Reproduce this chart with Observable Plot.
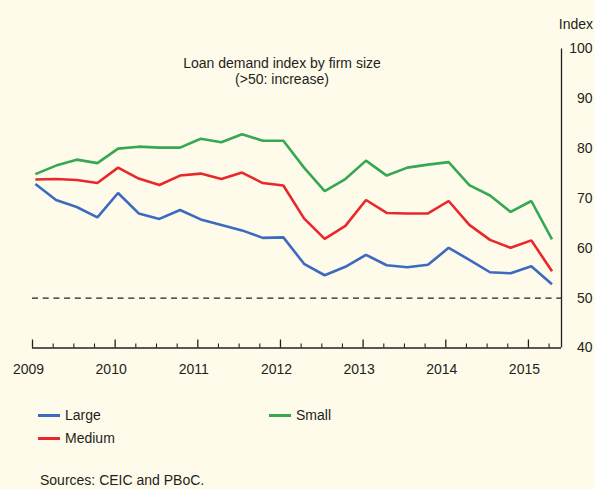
<!DOCTYPE html>
<html><head><meta charset="utf-8">
<script src="https://cdn.jsdelivr.net/npm/d3@7"></script>
<script src="https://cdn.jsdelivr.net/npm/@observablehq/plot@0.6"></script>
<style>
html,body{margin:0;padding:0;background:#FEFBEA;}
#wrap{position:relative;width:595px;height:489px;overflow:hidden;font-family:"Liberation Sans",Arial,Helvetica,sans-serif;color:#231F20;font-size:14px;}
#chart{position:absolute;left:0;top:0;}
.abs{position:absolute;line-height:16px;white-space:nowrap;}
.title{left:82px;width:400px;top:55px;text-align:center;}
.unit{right:2px;top:16px;}
.leg{position:absolute;height:16px;line-height:16px;white-space:nowrap;}
.leg .sw{position:absolute;left:0;top:7px;width:22px;height:3px;}
.leg .lb{position:absolute;left:27px;top:0;}
.src{left:40px;top:472px;}
</style></head><body>
<div id="wrap">
  <div id="chart"></div>
  <div class="abs title">Loan demand index by firm size<br>(&gt;50: increase)</div>
  <div class="abs unit">Index</div>
  <div id="legend"></div>
  <div class="abs src">Sources: CEIC and PBoC.</div>
</div>
<script>
// ---- data ----
const quarters = [
  "2009Q1","2009Q2","2009Q3","2009Q4",
  "2010Q1","2010Q2","2010Q3","2010Q4",
  "2011Q1","2011Q2","2011Q3","2011Q4",
  "2012Q1","2012Q2","2012Q3","2012Q4",
  "2013Q1","2013Q2","2013Q3","2013Q4",
  "2014Q1","2014Q2","2014Q3","2014Q4",
  "2015Q1","2015Q2"
];
const large  = [72.9, 69.7, 68.3, 66.2, 71.1, 67.0, 65.9, 67.7, 65.8, 64.7, 63.6, 62.1, 62.2, 56.9, 54.6, 56.3, 58.7, 56.6, 56.2, 56.7, 60.1, 57.7, 55.2, 55.0, 56.4, 52.8];
const medium = [73.8, 73.9, 73.7, 73.1, 76.2, 74.0, 72.7, 74.6, 75.0, 73.9, 75.2, 73.1, 72.6, 66.0, 61.9, 64.5, 69.7, 67.1, 67.0, 67.0, 69.5, 64.7, 61.7, 60.1, 61.6, 55.4];
const small  = [74.9, 76.6, 77.8, 77.1, 80.0, 80.4, 80.2, 80.2, 82.0, 81.3, 82.9, 81.6, 81.6, 76.2, 71.5, 73.9, 77.6, 74.6, 76.2, 76.8, 77.3, 72.7, 70.6, 67.3, 69.5, 61.8];
const seriesNames  = ["Large", "Medium", "Small"];
const seriesValues = [large, medium, small];
const seriesColors = ["#3B6AC0", "#E8282A", "#36A852"];
const yearTicks = [2009, 2010, 2011, 2012, 2013, 2014, 2015];
const yTicks = [40, 50, 60, 70, 80, 90, 100];
const threshold = 50;

// ---- build ----
const xDomain = [2009, 2015.4];
const qToYear = q => +q.slice(0, 4) + (+q.slice(5) - 1) / 4 + 0.035;
const rows = [];
seriesNames.forEach((name, s) => {
  quarters.forEach((q, i) => rows.push({date: qToYear(q), value: seriesValues[s][i], series: name}));
});
const minorTicks = [];
yearTicks.forEach(y => [0.25, 0.5, 0.75].forEach(f => { if (y + f < xDomain[1]) minorTicks.push(y + f); }));

const ink = "#231F20";
const chart = Plot.plot({
  width: 595, height: 390,
  marginTop: 48.5, marginBottom: 42.5, marginLeft: 32, marginRight: 34,
  style: {background: "transparent", fontFamily: "'Liberation Sans', Arial, sans-serif", fontSize: "14px", color: ink, overflow: "visible"},
  x: {domain: xDomain},
  y: {domain: [yTicks[0], yTicks[yTicks.length - 1]]},
  color: {domain: seriesNames, range: seriesColors},
  marks: [
    Plot.ruleY([threshold], {stroke: ink, strokeWidth: 1.2, strokeDasharray: "6,4.7"}),
    Plot.ruleY([yTicks[0]], {stroke: ink, strokeWidth: 1.3}),
    Plot.ruleX([xDomain[1]], {stroke: ink, strokeWidth: 1.3}),
    Plot.axisX(yearTicks, {tickSize: 8, dy: -8, fill: "none", stroke: ink, strokeWidth: 1.3, label: null}),
    Plot.axisX(minorTicks, {tickSize: 4, dy: -4, fill: "none", stroke: ink, strokeWidth: 1.1, label: null}),
    Plot.axisX(yearTicks, {tickSize: 0, tickPadding: 16, dx: -4, tickFormat: d => String(d), fontSize: 14, fill: ink, label: null}),
    Plot.axisY(yTicks, {anchor: "right", tickSize: 0, tickPadding: 0, textAnchor: "end", dx: 31, fontSize: 14, fill: ink, label: null}),
    Plot.line(rows, {x: "date", y: "value", stroke: "series", strokeWidth: 2.6, strokeLinejoin: "miter", strokeLinecap: "butt"})
  ]
});
document.getElementById("chart").appendChild(chart);

// legend (HTML)
const legendPos = {Large: [38, 407], Small: [269, 407], Medium: [38, 430]};
const legend = document.getElementById("legend");
seriesNames.forEach((name, i) => {
  const d = document.createElement("div");
  d.className = "leg";
  d.style.left = legendPos[name][0] + "px";
  d.style.top = legendPos[name][1] + "px";
  d.innerHTML = `<span class="sw" style="background:${seriesColors[i]}"></span><span class="lb">${name}</span>`;
  legend.appendChild(d);
});
</script>
</body></html>
